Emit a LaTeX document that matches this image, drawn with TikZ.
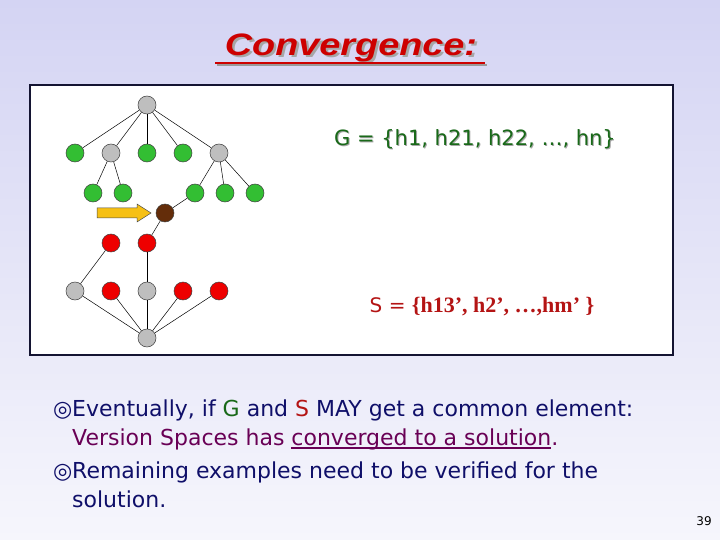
\documentclass[tikz,border=0pt]{standalone}
\usepackage{fontspec}
\setmainfont{DejaVu Sans}
\newfontfamily\titlefont{Liberation Sans}
\newfontfamily\timesfont{Liberation Serif}
\usepackage{tikz}
\usetikzlibrary{positioning}
\usetikzlibrary{calc}
\definecolor{bgtop}{RGB}{212,212,243}
\definecolor{bgbot}{RGB}{246,246,252}
\definecolor{boxline}{RGB}{20,20,50}
\definecolor{hgray}{RGB}{190,190,190}
\definecolor{hgreen}{RGB}{51,190,51}
\definecolor{hred}{RGB}{238,0,0}
\definecolor{hbrown}{RGB}{100,45,10}
\definecolor{arrowyel}{RGB}{246,192,20}
\definecolor{gtext}{RGB}{25,105,25}
\definecolor{stext}{RGB}{180,20,20}
\definecolor{titlered}{RGB}{205,0,0}
\definecolor{navytext}{RGB}{15,15,105}
\definecolor{purptext}{RGB}{105,0,85}
\newcommand{\thickul}[1]{\setbox0\hbox{#1}\rlap{\rule[-4pt]{\wd0}{1.6pt}}\box0}
\newcommand{\shadowed}[2]{\rlap{\hspace{#1}\raisebox{-#1}{\color{black!35}#2}}#2}

\begin{document}
\begin{tikzpicture}[
    x=1pt, y=-1pt,
    hyp/.style={circle, draw=black!75, line width=0.5pt, minimum size=18pt, inner sep=0pt},
    gnode/.style={hyp, fill=hgray},
    grnode/.style={hyp, fill=hgreen},
    rnode/.style={hyp, fill=hred},
    bnode/.style={hyp, fill=hbrown},
    edge/.style={draw=black, line width=0.5pt},
    bullettext/.style={anchor=base west, inner sep=0pt, text=navytext, font=\fontsize{22}{26}\selectfont}
  ]

  \fill[top color=bgtop, bottom color=bgbot] (0,0) rectangle (720,540);
  \useasboundingbox (0,0) rectangle (720,540);

  % title
  \node[text=titlered] (title) at (351,49) {\titlefont\bfseries\itshape\fontsize{31}{36}\selectfont\scalebox{1.22}[1]{\shadowed{2pt}{Convergence:}}};
  \draw[black!40, line width=2.5pt] (217,65) -- (487,65);
  \draw[titlered, line width=2.5pt] (215,63) -- (485,63);

  \draw[fill=white, draw=boxline, line width=1.2pt] (30,85) rectangle (673,355);

  % G side
  \node[gnode] (top) at (147,105) {};

  \node[grnode] (g_a) at (75,153) {};
  \node[gnode]  (g_b) at (111,153) {};
  \node[grnode] (g_c) at (147,153) {};
  \node[grnode] (g_d) at (183,153) {};
  \node[gnode]  (g_e) at (219,153) {};

  \node[grnode] (g_ba) at (93,193) {};
  \node[grnode] (g_bb) at (123,193) {};
  \node[grnode] (g_ea) at (195,193) {};
  \node[grnode] (g_eb) at (225,193) {};
  \node[grnode] (g_ec) at (255,193) {};

  \foreach \n in {g_a,g_b,g_c,g_d,g_e}
    \draw[edge] (top) -- (\n);
  \draw[edge] (g_b) -- (g_ba);
  \draw[edge] (g_b) -- (g_bb);
  \foreach \n in {g_ea,g_eb,g_ec}
    \draw[edge] (g_e) -- (\n);

  % meeting point
  \node[bnode] (meet) at (165,213) {};
  \draw[edge] (meet) -- (g_ea);

  % S side
  \node[rnode] (s_a) at (111,243) {};
  \node[rnode] (s_b) at (147,243) {};
  \draw[edge] (meet) -- (s_b);

  \node[gnode] (s_aa) at (75,291) {};
  \node[rnode] (s_ab) at (111,291) {};
  \node[gnode] (s_ba) at (147,291) {};
  \node[rnode] (s_ac) at (183,291) {};
  \node[rnode] (s_ad) at (219,291) {};

  \draw[edge] (s_a) -- (s_aa);
  \draw[edge] (s_b) -- (s_ba);

  \node[gnode] (bottom) at (147,338) {};
  \foreach \n in {s_aa,s_ab,s_ba,s_ac,s_ad}
    \draw[edge] (bottom) -- (\n);

  % yellow arrow
  \draw[fill=arrowyel, draw=black!70, line width=0.5pt]
    (97,208) -- (137,208) -- (137,204) -- (151,213) -- (137,222) -- (137,218) -- (97,218) -- cycle;

  % sets
  \node[text=gtext] (gset) at (475,140) {\fontsize{21}{25}\selectfont\shadowed{1pt}{G = \{h1, h21, h22, \dots, hn\}}};
  \node[text=stext] (sset) at (482,307) {\fontsize{20}{24}\selectfont S = {\timesfont\bfseries\fontsize{22}{26}\selectfont\{h13’, h2’, …,hm’ \}}};

  % bullets
  \node[bullettext] (b1) at (53,416) {◎};
  \node[bullettext] (l1) at (72,416) {Eventually, if {\color{gtext}G} and {\color{stext}S} MAY get a common element:};
  \node[bullettext, text=purptext] (l2) at (72,445) {Version Spaces has \thickul{converged to a solution}.};
  \node[bullettext] (b2) at (53,478) {◎};
  \node[bullettext] (l3) at (72,478) {Remaining examples need to be verified for the};
  \node[bullettext] (l4) at (72,507) {solution.};

  \node[anchor=base, font=\fontsize{12}{14}\selectfont] (page) at (704,525) {39};

\end{tikzpicture}
\end{document}
